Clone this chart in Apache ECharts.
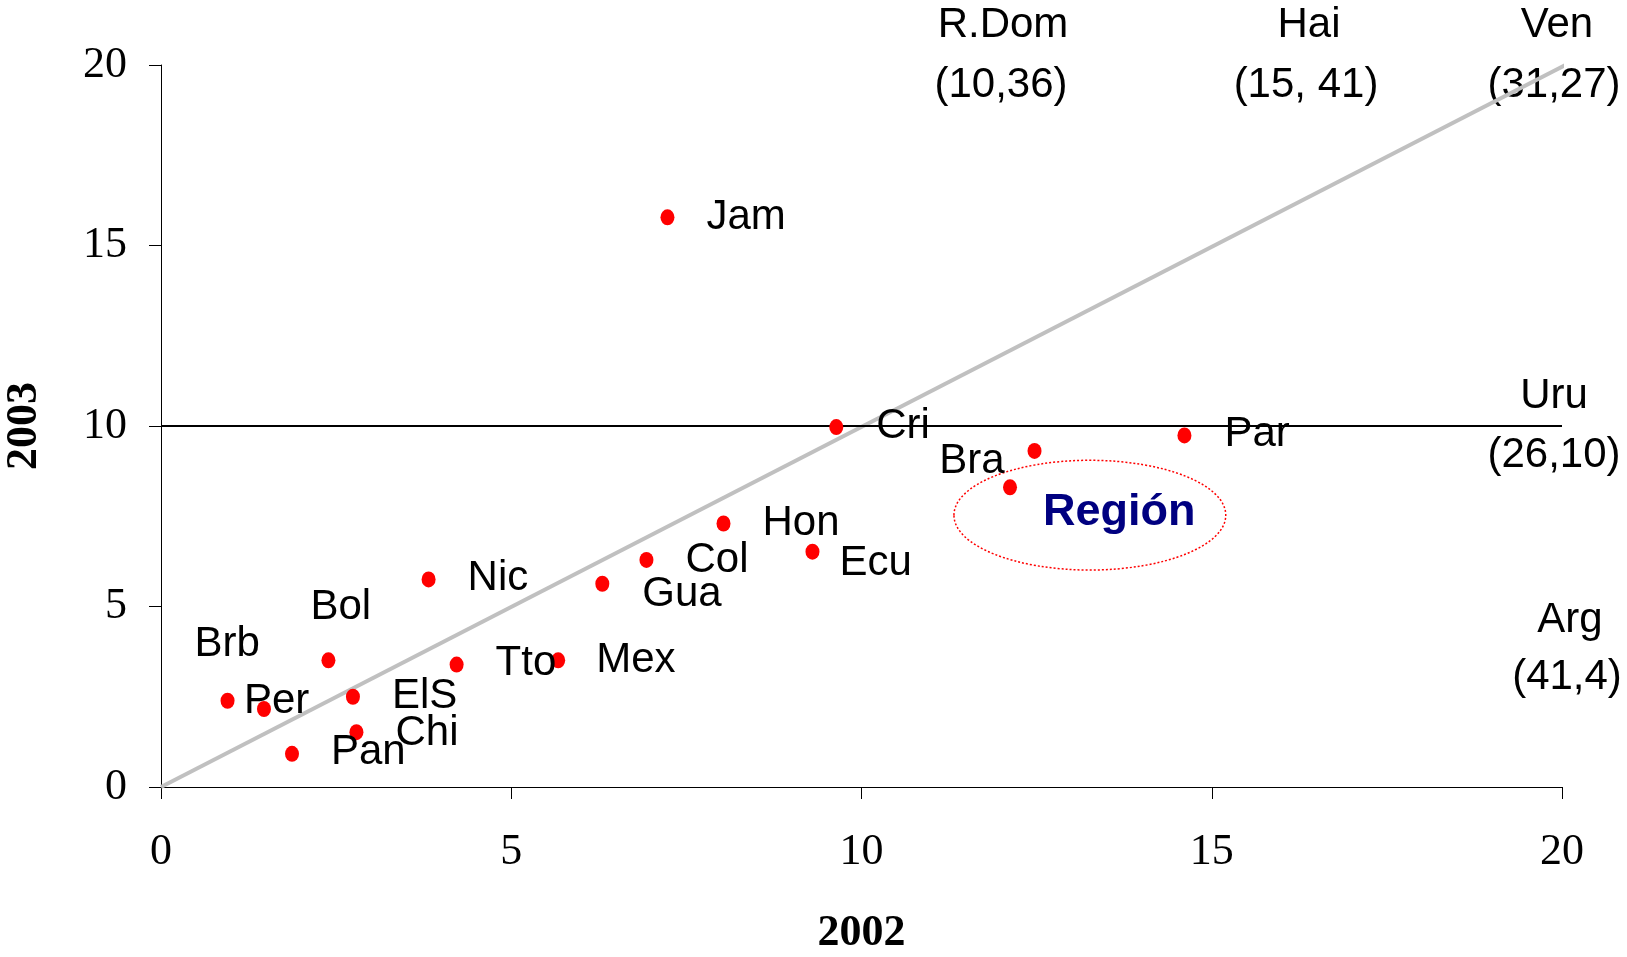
<!doctype html>
<html lang="es">
<head>
    <meta charset="UTF-8">
    <title>2002 vs 2003</title>
    <script src="https://cdn.jsdelivr.net/npm/echarts@6/dist/echarts.min.js"></script>
    <style>
        html, body { margin: 0; padding: 0; background: #fff; }
    </style>
</head>
<body>
<div id="main" style="width:1627px; height:957px;"></div>

<script>
    // datos: eje x = 2002, eje y = 2003
    var countries = ['Jam', 'Cri', 'Par', 'Bra', 'Región', 'Hon', 'Ecu', 'Col', 'Gua', 'Nic',
        'Bol', 'Brb', 'Tto', 'Mex', 'Per', 'ElS', 'Chi', 'Pan'];
    var val2002 = [7.23, 9.64, 14.61, 12.47, 12.12, 8.03, 9.30, 6.93, 6.30, 3.82,
        2.39, 0.95, 4.22, 5.67, 1.47, 2.74, 2.79, 1.87];
    var val2003 = [15.78, 9.97, 9.74, 9.31, 8.30, 7.30, 6.52, 6.29, 5.63, 5.75,
        3.51, 2.39, 3.39, 3.51, 2.16, 2.50, 1.52, 0.92];

    // paises fuera de escala
    var outNames = ['R.Dom', 'Hai', 'Ven', 'Uru', 'Arg'];
    var outValues = ['(10,36)', '(15, 41)', '(31,27)', '(26,10)', '(41,4)'];

    var axisTicks = [0, 5, 10, 15, 20];
    var refLevel = 10;       // linea horizontal
    var diagEnd = [20.2, 20.15];
    var regionEllipse = [13.26, 7.53, 1.94, 1.52]; // centro x, centro y, radio x, radio y

    // posicion de las etiquetas respecto al punto (px): [dx, dy, align]
    var labelOffsets = [
        [39, 0, 'left'], [40, -1, 'left'], [40, -1, 'left'], [-30, 11, 'right'], [33, 25, 'left'],
        [39, 0, 'left'], [27, 12, 'left'], [39, 0, 'left'], [40, 11, 'left'], [39, -1, 'left'],
        [-18, -53, 'left'], [-33, -56, 'left'], [39, -1, 'left'], [38, 0, 'left'], [-20, -8, 'left'],
        [39, 0, 'left'], [39, 1, 'left'], [39, -1, 'left']
    ];
    var outPos = [[1003, 25, 1001, 85], [1309, 25, 1306, 85], [1557, 25, 1554, 85],
        [1554, 396, 1554, 455], [1570, 620, 1567, 677]];

    var sans = '"Liberation Sans", Arial, sans-serif';
    var serif = '"Liberation Serif", "Times New Roman", serif';

    var points = countries.map(function (c, i) {
        var off = labelOffsets[i];
        var item = {
            name: c,
            value: [val2002[i], val2003[i]],
            label: {
                show: true,
                position: 'inside',
                align: off[2],
                verticalAlign: 'middle',
                offset: [off[0], off[1]],
                formatter: '{b}',
                color: '#000',
                fontFamily: sans,
                fontSize: 42
            }
        };
        if (c === 'Región') {
            item.label.color = '#000080';
            item.label.fontWeight = 'bold';
            item.label.fontSize = 45;
        }
        return item;
    });

    var texts = [];
    outNames.forEach(function (n, i) {
        var p = outPos[i];
        texts.push({
            type: 'text', x: p[0], y: p[1],
            style: { text: n, fill: '#000', font: '42px ' + sans, textAlign: 'center', textVerticalAlign: 'middle' }
        });
        texts.push({
            type: 'text', x: p[2], y: p[3],
            style: { text: outValues[i], fill: '#000', font: '42px ' + sans, textAlign: 'center', textVerticalAlign: 'middle' }
        });
    });

    var myChart = echarts.init(document.getElementById('main'));
    myChart.setOption({
        animation: false,
        backgroundColor: '#fff',
        grid: { left: 161, right: 65, top: 65, bottom: 170, containLabel: false, outerBoundsMode: 'none' },
        xAxis: {
            type: 'value',
            min: axisTicks[0],
            max: axisTicks[axisTicks.length - 1],
            interval: 5,
            name: '2002',
            nameLocation: 'middle',
            nameGap: 125,
            nameMoveOverlap: false,
            nameTextStyle: { fontFamily: serif, fontWeight: 'bold', fontSize: 44, color: '#000' },
            axisLine: { lineStyle: { color: '#000', width: 1 } },
            axisTick: { length: 12, lineStyle: { color: '#000' } },
            axisLabel: { margin: 43, fontFamily: serif, fontSize: 44, color: '#000' },
            splitLine: { show: false }
        },
        yAxis: {
            type: 'value',
            min: axisTicks[0],
            max: axisTicks[axisTicks.length - 1],
            interval: 5,
            name: '2003',
            nameLocation: 'middle',
            nameGap: 114,
            nameRotate: 90,
            nameMoveOverlap: false,
            nameTextStyle: { fontFamily: serif, fontWeight: 'bold', fontSize: 44, color: '#000' },
            axisLine: { show: true, lineStyle: { color: '#000', width: 1 } },
            axisTick: { show: true, length: 12, lineStyle: { color: '#000' } },
            axisLabel: { margin: 34, fontFamily: serif, fontSize: 44, color: '#000' },
            splitLine: { show: false }
        },
        graphic: texts,
        series: [
            {
                type: 'line',
                data: [[0, 0], diagEnd],
                clip: false,
                symbol: 'none',
                silent: true,
                z: 1,
                lineStyle: { color: '#c0c0c0', width: 4 }
            },
            {
                type: 'line',
                data: [[axisTicks[0], refLevel], [axisTicks[axisTicks.length - 1], refLevel]],
                symbol: 'none',
                silent: true,
                z: 1,
                lineStyle: { color: '#000', width: 2 }
            },
            {
                type: 'custom',
                data: [regionEllipse],
                silent: true,
                z: 2,
                renderItem: function (params, api) {
                    var c = api.coord([api.value(0), api.value(1)]);
                    var s = api.size([api.value(2), api.value(3)]);
                    return {
                        type: 'ellipse',
                        shape: { cx: c[0], cy: c[1], rx: s[0], ry: s[1] },
                        style: { fill: 'none', stroke: '#ff0000', lineWidth: 1.5, lineDash: [2, 2] }
                    };
                }
            },
            {
                type: 'scatter',
                data: points,
                symbol: 'circle',
                symbolSize: [14, 16],
                z: 3,
                itemStyle: { color: '#ff0000', opacity: 1 }
            }
        ]
    });
</script>
</body>
</html>
